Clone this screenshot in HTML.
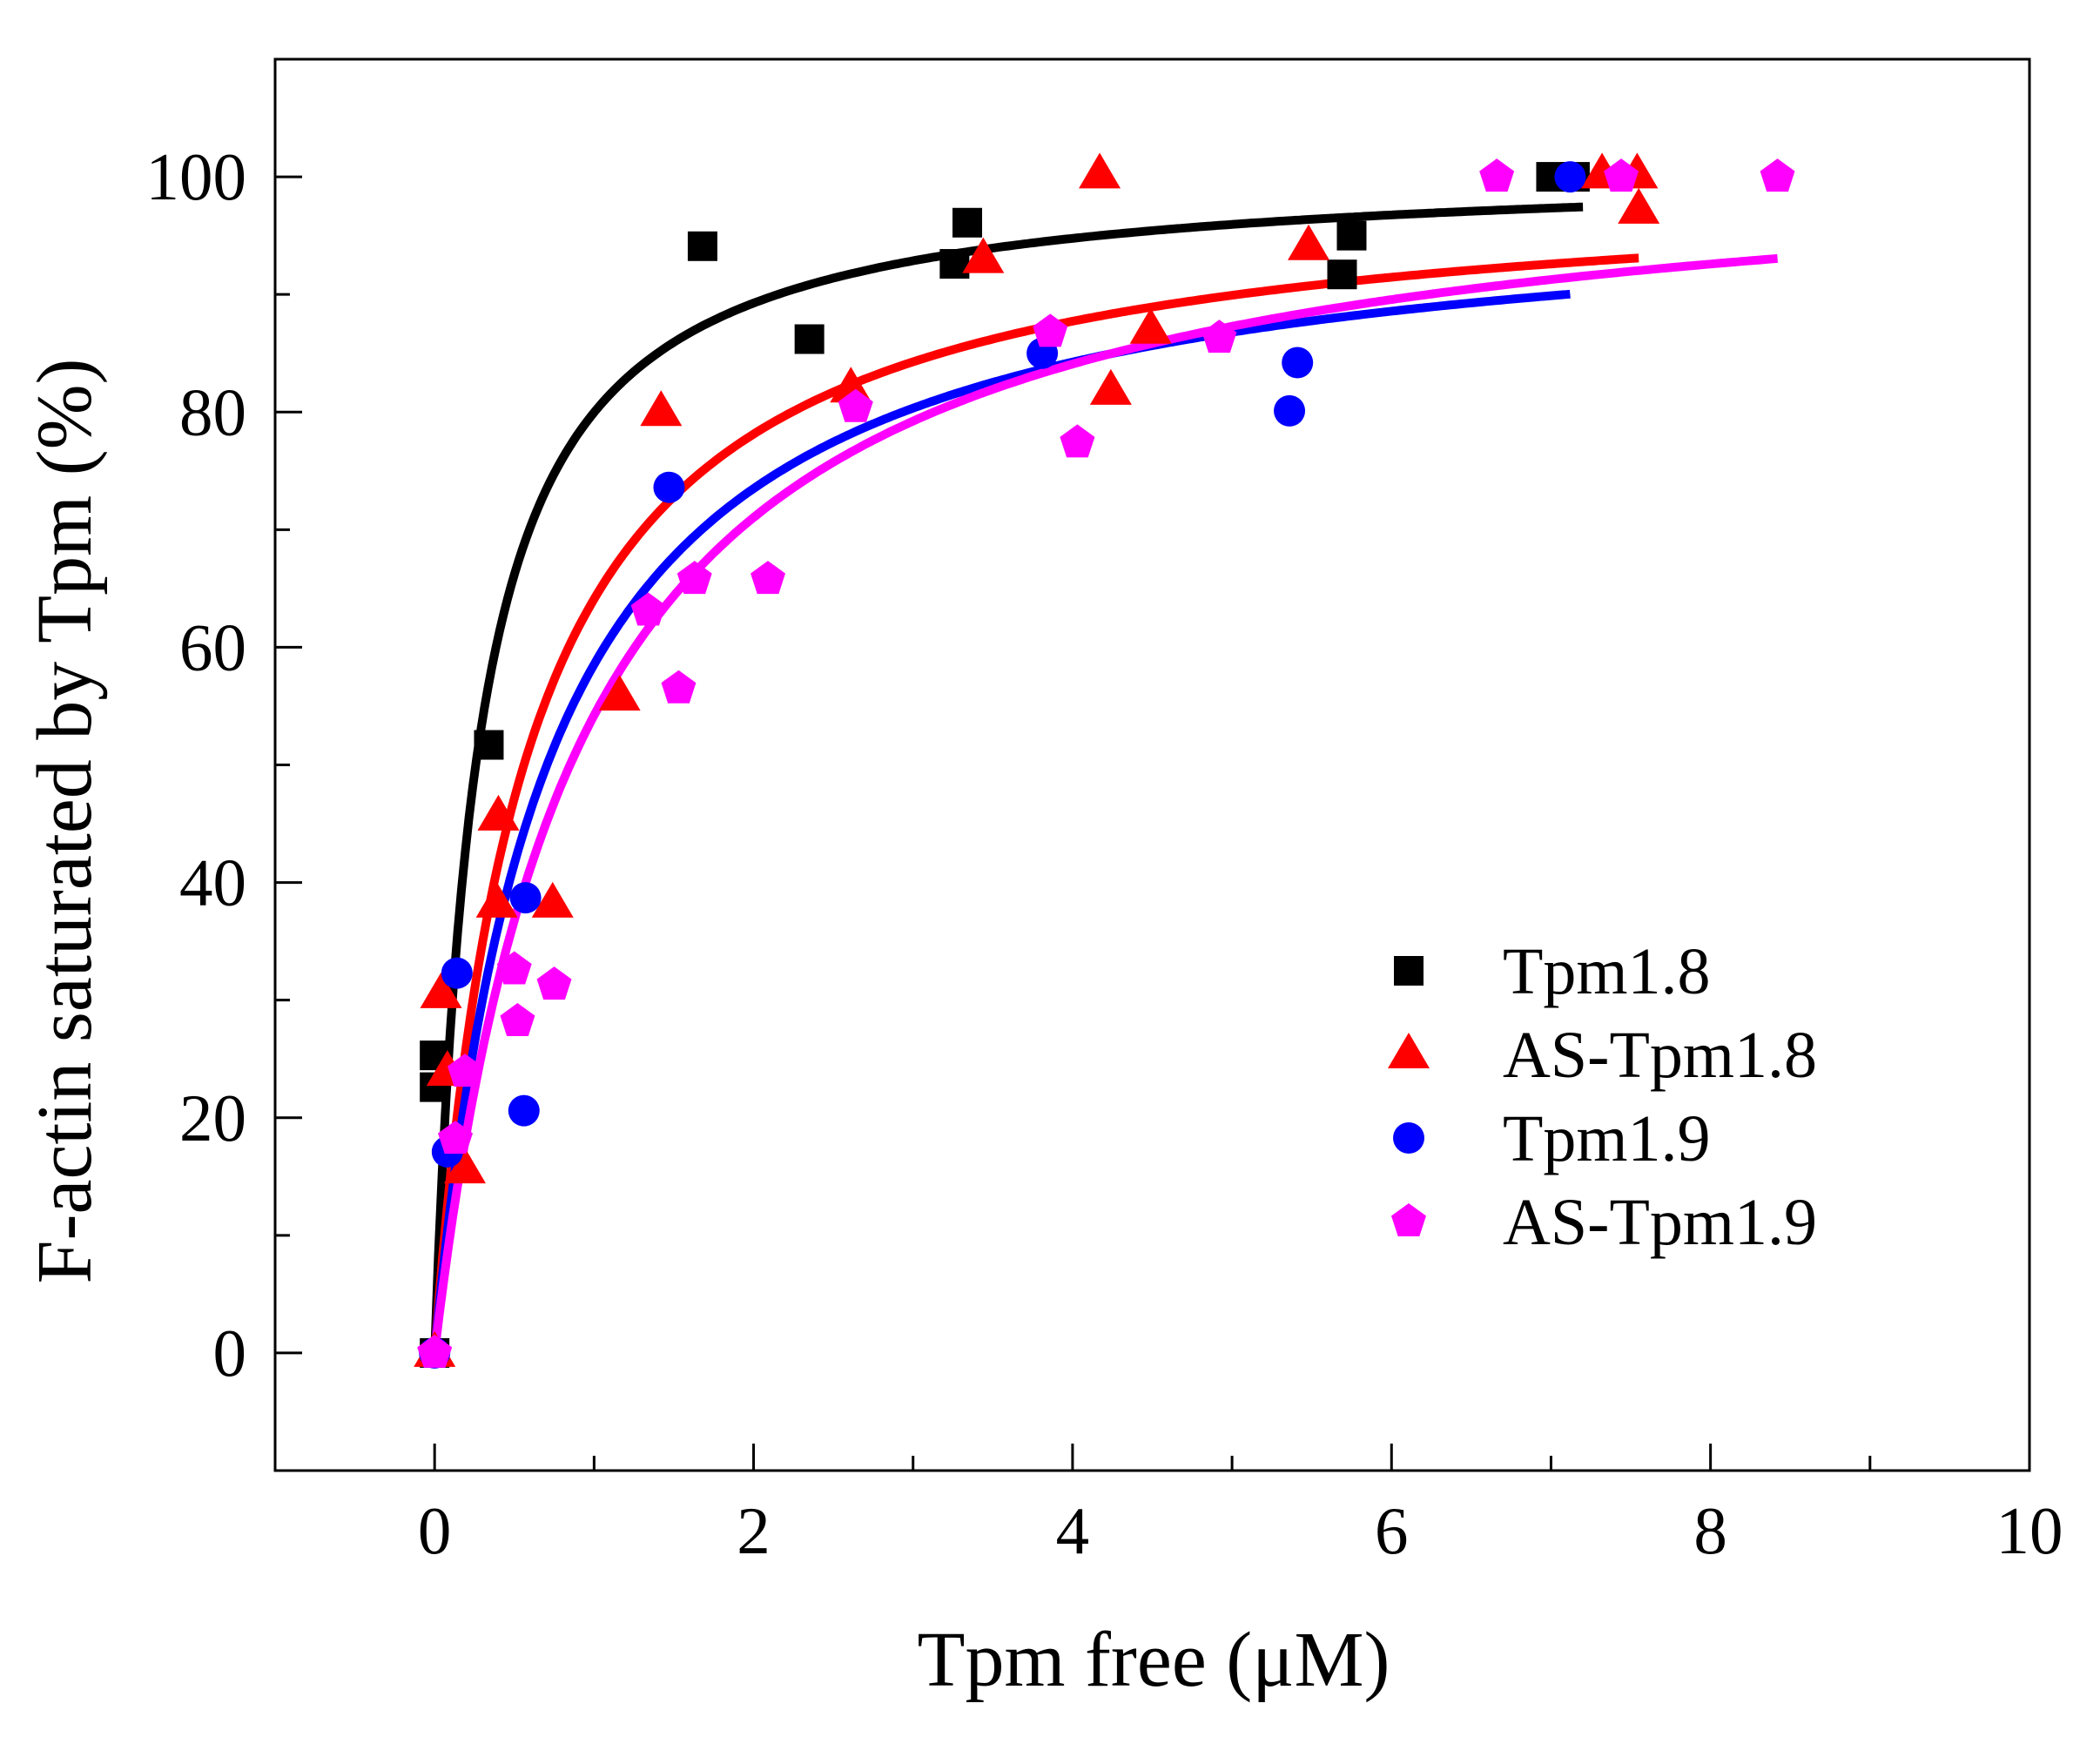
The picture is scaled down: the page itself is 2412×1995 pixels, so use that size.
<!DOCTYPE html>
<html><head><meta charset="utf-8"><style>
html,body{margin:0;padding:0;background:#fff;}
svg{display:block;font-family:"Liberation Serif",serif;}
</style></head><body>
<svg id="chart" width="2412" height="1995" viewBox="0 0 2412 1995" xmlns="http://www.w3.org/2000/svg">
<rect x="316" y="68" width="2015" height="1621" fill="none" stroke="#000" stroke-width="3"/>
<g id="axes"></g>
<g id="curves"></g>
<g id="points"></g>
<text x="1325" y="1936" font-size="90" text-anchor="middle">Tpm free (μM)</text>
<text x="0" y="0" font-size="90" text-anchor="middle" transform="translate(104,943) rotate(-90)">F-actin saturated by Tpm (%)</text>
<g id="legend"></g>
</svg>
<script>
const xTicks=[0,2,4,6,8,10];
const yTicks=[0,20,40,60,80,100];
const seriesNames=["Tpm1.8","AS-Tpm1.8","Tpm1.9","AS-Tpm1.9"];
const seriesColors=["#000000","#ff0000","#0000ff","#ff00ff"];
const seriesShapes=["square","triangle","circle","pentagon"];
const tpm18X=[0,0,0,0.34,1.68,2.35,3.26,3.34,5.69,5.75,7.0,7.15];
const tpm18Y=[25.3,22.6,0,51.7,94.1,86.2,92.6,96.1,91.7,95,100,100];
const as18X=[0,0.04,0.08,0.19,0.39,0.40,0.74,1.16,1.42,2.61,3.44,4.17,4.24,4.49,5.48,7.32,7.54,7.55];
const as18Y=[0,30.5,23.9,15.6,38.2,45.6,38.2,55.8,80,82,93,100.2,81.8,87,94.1,100.2,100.2,97.2];
const tpm19X=[0,0.08,0.14,0.56,0.57,1.47,3.81,5.36,5.41,7.12];
const tpm19Y=[0,17.1,32.3,20.6,38.7,73.6,85,80.1,84.2,100];
const as19X=[0,0.13,0.19,0.50,0.52,0.75,1.34,1.53,1.63,2.09,2.64,3.86,4.03,4.92,6.66,7.44,8.42];
const as19Y=[0,18.2,23.9,32.6,28.2,31.3,63.1,56.5,65.8,65.8,80.4,86.8,77.4,86.3,100,100,100];
const fitBmax=[101,100,98.7,103];
const fitK=[0.263,0.56,0.686,0.9];
const fitXmax=[7.2,7.55,7.12,8.42];

const NS="http://www.w3.org/2000/svg";
const L=316,R=2331,T=68,B=1689,XMIN=-1,XMAX=10,YMIN=-10,YMAX=110;
function sx(v){return L+(v-XMIN)/(XMAX-XMIN)*(R-L);}
function sy(v){return B-(v-YMIN)/(YMAX-YMIN)*(B-T);}
function mk(tag,attrs,parent){const e=document.createElementNS(NS,tag);for(const k in attrs)e.setAttribute(k,attrs[k]);parent.appendChild(e);return e;}
const axes=document.getElementById('axes');
for(let v=-1;v<=10;v++){
  const major=xTicks.includes(v);
  const t=mk('line',{x1:sx(v),x2:sx(v),y1:B,y2:B-(major?31:17),stroke:'#000','stroke-width':3},axes);
  
  
}
xTicks.forEach(v=>{
  const t=mk('text',{x:sx(v),y:1784,'font-size':77,'text-anchor':'middle'},axes);
  t.textContent=v;
  
  
});
for(let v=-10;v<=110;v+=10){
  const major=yTicks.includes(v);
  const t=mk('line',{x1:L,x2:L+(major?31:17),y1:sy(v),y2:sy(v),stroke:'#000','stroke-width':3},axes);
  
  
}
yTicks.forEach(v=>{
  const t=mk('text',{x:283,y:sy(v)+26,'font-size':77,'text-anchor':'end'},axes);
  t.textContent=v;
  
  
});
const curves=document.getElementById('curves');
for(let s=0;s<4;s++){
  let d='';
  for(let i=0;i<=300;i++){
    const x=fitXmax[s]*i/300;
    const y=fitBmax[s]*x/(fitK[s]+x);
    d+=(i?'L':'M')+sx(x).toFixed(1)+','+sy(y).toFixed(1);
  }
  const p=mk('path',{d:d,fill:'none',stroke:seriesColors[s],'stroke-width':10},curves);
  
  
}
function marker(shape,cx,cy,color,parent){
  let e;
  if(shape==='square')e=mk('rect',{x:cx-17,y:cy-17,width:34,height:34,fill:color},parent);
  else if(shape==='circle')e=mk('circle',{cx:cx,cy:cy,r:18,fill:color},parent);
  else if(shape==='triangle')e=mk('polygon',{points:`${cx},${cy-25} ${cx+24},${cy+16} ${cx-24},${cy+16}`,fill:color},parent);
  else{let pts=[];for(let k=0;k<5;k++){const a=-Math.PI/2+k*2*Math.PI/5;pts.push((cx+21*Math.cos(a)).toFixed(1)+','+(cy+21*Math.sin(a)).toFixed(1));}
    e=mk('polygon',{points:pts.join(' '),fill:color},parent);}
  return e;
}
const pts=document.getElementById('points');
const allX=[tpm18X,as18X,tpm19X,as19X],allY=[tpm18Y,as18Y,tpm19Y,as19Y];
for(let s=0;s<4;s++){
  for(let i=0;i<allX[s].length;i++){
    const m=marker(seriesShapes[s],sx(allX[s][i]),sy(allY[s][i]),seriesColors[s],pts);
    
    
  }
}
const leg=document.getElementById('legend');
const legY=[1115,1211,1307,1403];
for(let s=0;s<4;s++){
  const m=marker(seriesShapes[s],1618,legY[s],seriesColors[s],leg);
  
  
  const t=mk('text',{x:1726,y:legY[s]+26,'font-size':76},leg);
  t.textContent=seriesNames[s];
  
  
}
</script>
</body></html>
